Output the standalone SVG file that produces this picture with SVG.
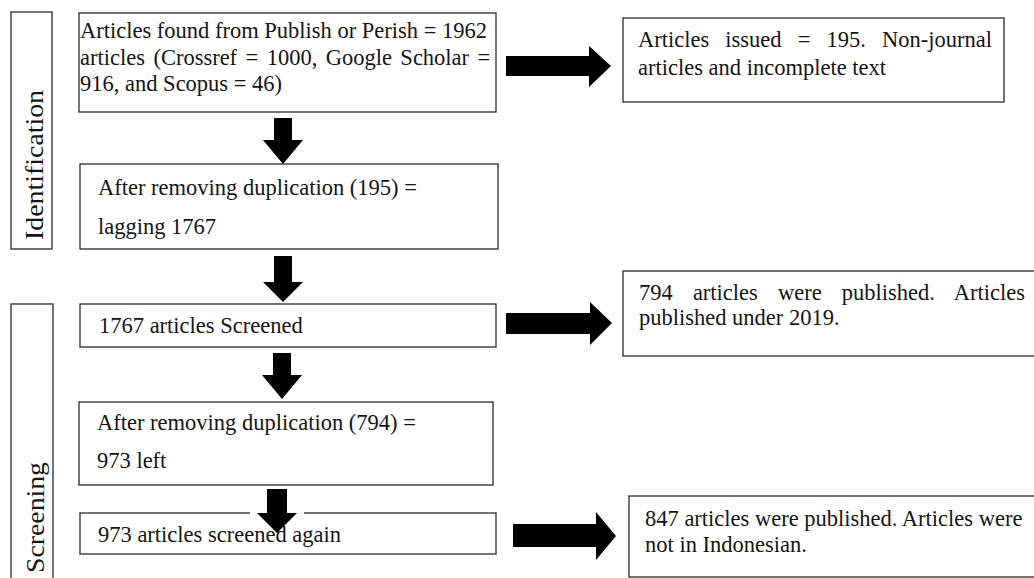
<svg xmlns="http://www.w3.org/2000/svg" width="1034" height="578" viewBox="0 0 1034 578">
<style>
.box{fill:#fff;stroke:#2a2a2a;stroke-width:1.3}
.t{font-family:"Liberation Serif","Times New Roman",serif;font-size:22.5px;fill:#141414}
.lbl{font-family:"Liberation Serif","Times New Roman",serif;font-size:25px;fill:#141414}
.arr{fill:#000}
</style>
<rect width="1034" height="578" fill="#fff"/>
<g id="stage-identification">
<rect class="box" x="11" y="12" width="41" height="237"/>
<text class="lbl" transform="translate(43,240) rotate(-90)" textLength="150" lengthAdjust="spacingAndGlyphs">Identification</text>
</g>
<g id="stage-screening">
<rect class="box" x="11" y="304" width="42" height="300"/>
<text class="lbl" transform="translate(44,573) rotate(-90)" textLength="111" lengthAdjust="spacingAndGlyphs">Screening</text>
</g>
<g id="node-found">
<rect class="box" x="79" y="13" width="417" height="99"/>
<text class="t" x="80" y="38">Articles found from Publish or Perish = 1962</text>
<text class="t" x="80" y="65" word-spacing="2.8">articles (Crossref = 1000, Google Scholar =</text>
<text class="t" x="80" y="91">916, and Scopus = 46)</text>
</g>
<g id="node-dedup1">
<rect class="box" x="80" y="164" width="418" height="85"/>
<text class="t" x="98" y="195">After removing duplication (195) =</text>
<text class="t" x="98" y="234">lagging 1767</text>
</g>
<g id="node-screened1">
<rect class="box" x="80" y="304" width="416" height="43"/>
<text class="t" x="99" y="333">1767 articles Screened</text>
</g>
<g id="node-dedup2">
<rect class="box" x="79" y="402" width="414" height="83"/>
<text class="t" x="97" y="430">After removing duplication (794) =</text>
<text class="t" x="97" y="468">973 left</text>
</g>
<g id="node-screened2">
<rect class="box" x="80" y="513" width="416" height="41"/>
<text class="t" x="98" y="542">973 articles screened again</text>
</g>
<g id="node-excluded1">
<rect class="box" x="623" y="18" width="381" height="84"/>
<text class="t" x="638" y="47" word-spacing="10.5">Articles issued = 195. Non-journal</text>
<text class="t" x="638" y="75">articles and incomplete text</text>
</g>
<g id="node-excluded2">
<rect class="box" x="623" y="271" width="420" height="85"/>
<text class="t" x="639" y="300" word-spacing="14.5">794 articles were published. Articles</text>
<text class="t" x="639" y="325">published under 2019.</text>
</g>
<g id="node-excluded3">
<rect class="box" x="629" y="496" width="414" height="81"/>
<text class="t" x="645" y="526">847 articles were published. Articles were</text>
<text class="t" x="645" y="552">not in Indonesian.</text>
</g>
<g id="connectors">
<path class="arr" d="M274,118 H292 V140 H303 L283,164 L263,140 H274 Z"/>
<path class="arr" d="M274,256 H292 V282 H303 L283,302 L263,282 H274 Z"/>
<path class="arr" d="M273,353 H291 V375 H302 L282,399 L262,375 H273 Z"/>
<rect x="250" y="510" width="54" height="5" fill="#fff"/>
<path class="arr" d="M267,489 H287 V513 H297 L277,533 L257,513 H267 Z"/>
<path class="arr" d="M506,56 H589 V46 L611,66 L589,87 V76 H506 Z"/>
<path class="arr" d="M506,313 H590 V302 L612,323 L590,345 V334 H506 Z"/>
<path class="arr" d="M513,524 H596 V512 L616,536 L596,560 V547 H513 Z"/>
</g>
</svg>
